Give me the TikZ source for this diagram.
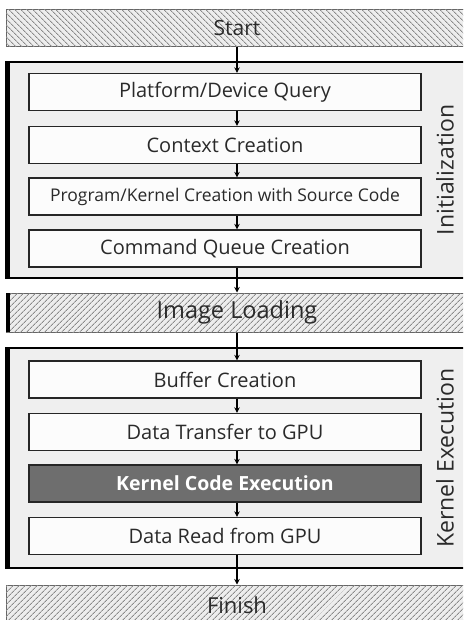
\documentclass[tikz,border=0pt]{standalone}
\usepackage{fontspec}
\setmainfont{Open Sans}
\usetikzlibrary{arrows.meta,patterns.meta}
\definecolor{grpfill}{HTML}{EFEFEF}
\definecolor{boxfill}{HTML}{FCFCFC}
\definecolor{txt}{HTML}{2A2A2A}
\definecolor{hatchbg}{HTML}{EDEDED}
\definecolor{hatchln}{HTML}{8A8A8A}
\definecolor{runfill}{HTML}{6E6E6E}
\tikzset{
  stepbox/.style={draw=black!85, line width=1.3pt, fill=boxfill, text=txt,
    minimum width=392pt, minimum height=37pt, inner sep=0pt,
    font=\fontsize{20}{24}\selectfont},
  runbox/.style={stepbox, fill=runfill, text=white,
    font=\fontsize{19.5}{24}\selectfont\bfseries},
  banner/.style={draw=black!60, line width=1pt, fill=hatchbg,
    postaction={pattern={Lines[angle=#1,distance=4pt,line width=0.9pt]}, pattern color=hatchln},
    minimum width=462pt, inner sep=0pt, text=txt},
  group/.style={draw=black, line width=1.5pt, fill=grpfill},
  sidelabel/.style={rotate=90, text=txt, font=\fontsize{23}{26}\selectfont},
  flow/.style={line width=1.1pt, -{Stealth[length=5.5pt,width=5.5pt]}},
}
\begin{document}
\begin{tikzpicture}[x=1pt,y=-1pt]
  \clip (0,0) rectangle (463,620);
  \fill[white] (0,0) rectangle (463,620);

  % group panels
  \draw[group] (6,62) rectangle (468,278);
  \draw[black, line width=4pt] (7.5,61.5) -- (7.5,279);
  \draw[group] (6,348) rectangle (468,568);
  \draw[black, line width=4pt] (7.5,347.5) -- (7.5,569);

  % phase banners
  \node[banner=-45, minimum height=37pt, font=\fontsize{21}{24}\selectfont] (start) at (237,28.5) {Start};
  \node[banner=45, minimum height=39pt, font=\fontsize{23.5}{26}\selectfont] (load) at (237,312.5) {Image Loading};
  \draw[black, line width=4pt] (7.5,293) -- (7.5,332);
  \node[banner=45, minimum height=40pt, font=\fontsize{22}{26}\selectfont] (finish) at (237,605) {Finish};

  % initialization steps
  \node[stepbox] (pq) at (225,92) {Platform/Device Query};
  \node[stepbox] (cc) at (225,145) {Context Creation};
  \node[stepbox, font=\fontsize{17.5}{20}\selectfont] (pk) at (225,196.5) {Program/Kernel Creation with Source Code};
  \node[stepbox] (cq) at (225,248.5) {Command Queue Creation};

  % kernel execution steps
  \node[stepbox] (bc) at (225,379.5) {Buffer Creation};
  \node[stepbox] (dt) at (225,432) {Data Transfer to GPU};
  \node[runbox] (ke) at (225,483.5) {Kernel Code Execution};
  \node[stepbox] (dr) at (225,536) {Data Read from GPU};

  % side labels
  \node[sidelabel] (initlbl) at (445,170) {Initialization};
  \node[sidelabel] (execlbl) at (445,458) {Kernel Execution};

  % connectors
  \coordinate (ax) at (237,0);
  \draw[flow] (start.south -| ax) -- (pq.north -| ax);
  \draw[flow] (pq.south -| ax) -- (cc.north -| ax);
  \draw[flow] (cc.south -| ax) -- (pk.north -| ax);
  \draw[flow] (pk.south -| ax) -- (cq.north -| ax);
  \draw[flow] (cq.south -| ax) -- (load.north -| ax);
  \draw[flow] (load.south -| ax) -- (bc.north -| ax);
  \draw[flow] (bc.south -| ax) -- (dt.north -| ax);
  \draw[flow] (dt.south -| ax) -- (ke.north -| ax);
  \draw[flow] (ke.south -| ax) -- (dr.north -| ax);
  \draw[flow] (dr.south -| ax) -- (finish.north -| ax);
\end{tikzpicture}
\end{document}
